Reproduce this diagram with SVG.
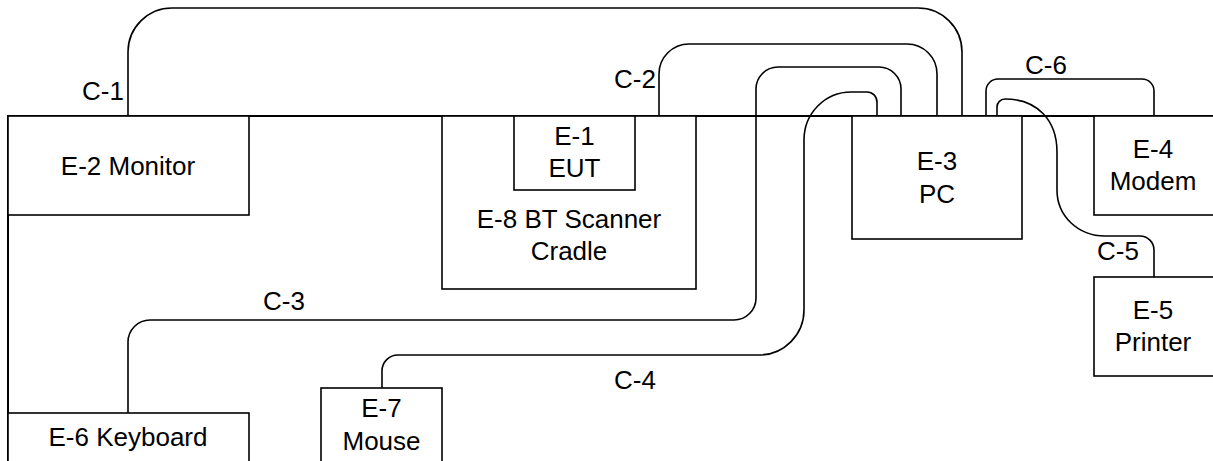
<svg xmlns="http://www.w3.org/2000/svg" width="1213" height="461" viewBox="0 0 1213 461">
<style>
.box{fill:#fff;stroke:#000;stroke-width:1.6}
.tbl{fill:none;stroke:#000;stroke-width:2}
.cab{fill:none;stroke:#000;stroke-width:1.6}
text{font-family:"Liberation Sans",Arial,sans-serif;font-size:26px;fill:#000;text-anchor:middle}
</style>
<rect width="1213" height="461" fill="#fff"/>
<g id="table"><path class="tbl" d="M8,461 V116 H1213"/></g>
<g id="E-2"><rect class="box" x="8" y="116" width="241" height="99"/><text x="128" y="175">E-2 Monitor</text></g>
<g id="E-8"><rect class="box" x="442" y="116" width="254" height="173"/><text x="569" y="228">E-8 BT Scanner</text><text x="569" y="260">Cradle</text></g>
<g id="E-1"><rect class="box" x="514" y="116" width="121" height="74"/><text x="574.5" y="145">E-1</text><text x="574.5" y="177">EUT</text></g>
<g id="E-3"><rect class="box" x="852" y="116" width="170" height="123"/><text x="937" y="170">E-3</text><text x="937" y="203">PC</text></g>
<g id="E-4"><rect class="box" x="1094" y="116" width="125" height="99"/><text x="1153" y="158">E-4</text><text x="1153" y="190">Modem</text></g>
<g id="E-5"><rect class="box" x="1094" y="277" width="125" height="99"/><text x="1153" y="319">E-5</text><text x="1153" y="351">Printer</text></g>
<g id="E-6"><rect class="box" x="8" y="413" width="241" height="60"/><text x="128" y="446">E-6 Keyboard</text></g>
<g id="E-7"><rect class="box" x="321" y="388" width="121" height="85"/><text x="381.5" y="417">E-7</text><text x="381.5" y="450">Mouse</text></g>
<g id="connectors">
<path class="cab" d="M128,116 V52 A44,44 0 0 1 172,8 H918 A44,44 0 0 1 962,52 V116"/>
<path class="cab" d="M659,116 V74 A30,30 0 0 1 689,44 H907 A30,30 0 0 1 937,74 V116"/>
<path class="cab" d="M128,413 V342 A22,22 0 0 1 150,320 H734 A22,22 0 0 0 756,298 V89 A22,22 0 0 1 778,67 H879 A22,22 0 0 1 901,89 V116"/>
<path class="cab" d="M382,388 V371 A16,16 0 0 1 398,355 H759 A45,45 0 0 0 804,310 V140 A47,48 0 0 1 851,92 H867 A10,10 0 0 1 877,102 V116"/>
<path class="cab" d="M997,116 V107 A8,8 0 0 1 1005,99 C1037,99 1057,120 1057,152 V190 C1057,216 1078,236 1105,236 H1140 A14,14 0 0 1 1154,250 V277"/>
<path class="cab" d="M986,116 V91 A12,12 0 0 1 998,79 H1142 A12,12 0 0 1 1154,91 V116"/>
<text x="103" y="100">C-1</text>
<text x="635" y="88">C-2</text>
<text x="284" y="310">C-3</text>
<text x="635" y="389">C-4</text>
<text x="1118" y="260">C-5</text>
<text x="1046" y="74">C-6</text>
</g>
</svg>
